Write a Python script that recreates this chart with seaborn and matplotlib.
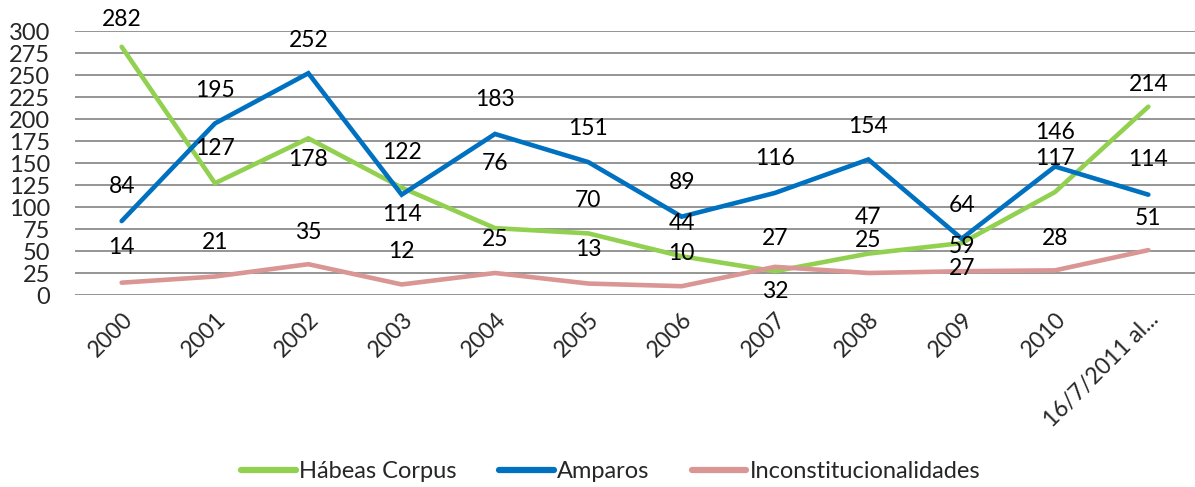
import matplotlib
matplotlib.use("Agg")
import matplotlib.pyplot as plt
import seaborn as sns
import pandas as pd

years = ["2000", "2001", "2002", "2003", "2004", "2005", "2006",
         "2007", "2008", "2009", "2010", "16/7/2011 al..."]
habeas = [282, 127, 178, 122, 76, 70, 44, 27, 47, 59, 117, 214]
amparos = [84, 195, 252, 114, 183, 151, 89, 116, 154, 64, 146, 114]
incons = [14, 21, 35, 12, 25, 13, 10, 32, 25, 27, 28, 51]
series_names = ["Hábeas Corpus", "Amparos", "Inconstitucionalidades"]
yticks = list(range(0, 301, 25))

colors = ["#92D050", "#0070C0", "#D99694"]

# vertical placement of each value label, in pixels above (-) / below (+) the point
label_dy = {
    "Hábeas Corpus": [-27, -35, 21, -35, -65, -33, -33, -33, -36, 3, -34, -22],
    "Amparos": [-35, -33, -33, 20, -34, -34, -34, -34, -33, -33, -34, -35],
    "Inconstitucionalidades": [-35, -34, -32, -33, -34, -34, -33, 25, -33, -3, -32, -32],
}

df = pd.DataFrame({
    "pos": list(range(len(years))) * 3,
    "value": habeas + amparos + incons,
    "serie": sum([[n] * len(years) for n in series_names], []),
})

sns.set_theme(style="white")
plt.rcParams["font.family"] = ["Lato", "DejaVu Sans"]

DPI = 100
fig = plt.figure(figsize=(11.95, 4.87), dpi=DPI)
ax = fig.add_axes([75 / 1195, 1 - 295 / 487, 1120 / 1195, 264 / 487])

sns.lineplot(data=df, x="pos", y="value", hue="serie", hue_order=series_names,
             palette=colors, linewidth=3.3, ax=ax, legend=True, sort=False)
for line in ax.lines:
    line.set_solid_capstyle("round")
    line.set_solid_joinstyle("miter")

ax.set_xlim(-0.5, len(years) - 0.5)
ax.set_ylim(0, 300)
ax.set_yticks(yticks)
ax.set_yticklabels([str(t) for t in yticks], fontsize=17)
ax.set_xticks(range(len(years)))
ax.set_xticklabels(years, rotation=45, ha="right", rotation_mode="anchor", fontsize=16.5)
ax.tick_params(axis="y", length=0, pad=18)
ax.tick_params(axis="x", length=0, pad=10)
ax.yaxis.grid(True, color="#8C8C8C", linewidth=1.3)
ax.set_axisbelow(True)
for s in ax.spines.values():
    s.set_visible(False)
ax.set_xlabel("")
ax.set_ylabel("")

for name, vals in zip(series_names, [habeas, amparos, incons]):
    for i, v in enumerate(vals):
        dy = label_dy[name][i]
        ax.annotate(str(v), (i, v), xytext=(0, -dy * 72 / DPI), textcoords="offset points",
                    ha="center", va="center", fontsize=16.5, color="black",
                    annotation_clip=False)

handles, labels = ax.get_legend_handles_labels()
ax.get_legend().remove()
leg = fig.legend(handles, labels, loc="center", bbox_to_anchor=(611 / 1195, 1 - 472 / 487),
                 ncol=3, frameon=False, fontsize=17, handlelength=2.3, handletextpad=0.15,
                 columnspacing=1.8)
for h in leg.get_lines():
    h.set_linewidth(4.5)
    h.set_solid_capstyle("round")

fig.savefig("out.png", dpi=DPI)
